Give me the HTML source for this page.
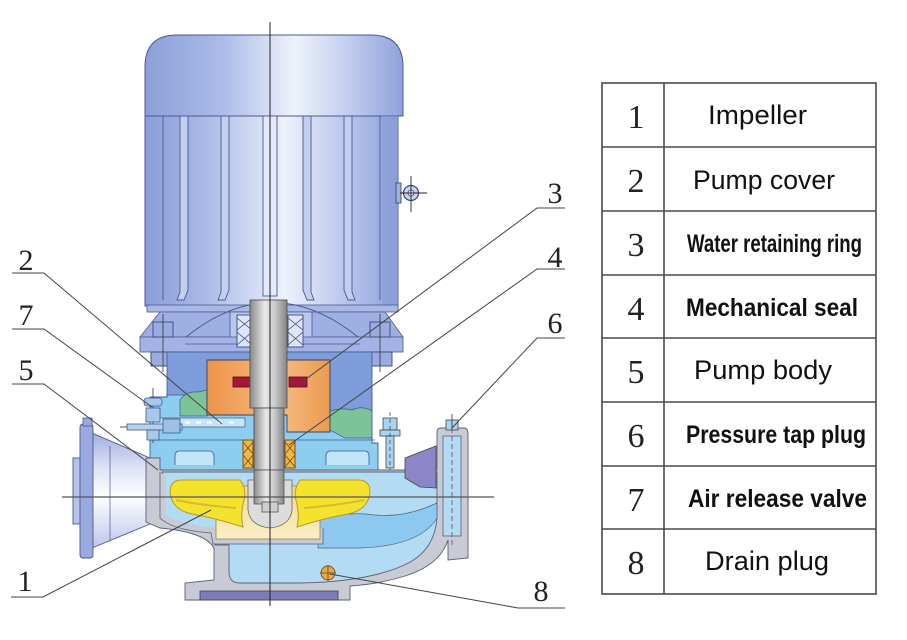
<!DOCTYPE html>
<html><head><meta charset="utf-8"><style>
html,body{margin:0;padding:0;background:#fff;}
svg{display:block;}
</style></head><body>
<svg width="907" height="640" viewBox="0 0 907 640" xmlns="http://www.w3.org/2000/svg">
<defs>
<linearGradient id="gBody" x1="145" x2="398" y1="0" y2="0" gradientUnits="userSpaceOnUse">
 <stop offset="0" stop-color="#8a9dd7"/>
 <stop offset="0.2" stop-color="#a3b4e6"/>
 <stop offset="0.45" stop-color="#d6def5"/>
 <stop offset="0.55" stop-color="#eef2fc"/>
 <stop offset="0.72" stop-color="#c8d3f1"/>
 <stop offset="0.9" stop-color="#a2b3e4"/>
 <stop offset="1" stop-color="#8699d5"/>
</linearGradient>
<linearGradient id="gCap" x1="145" x2="403" y1="0" y2="0" gradientUnits="userSpaceOnUse">
 <stop offset="0" stop-color="#8c9fd8"/>
 <stop offset="0.3" stop-color="#abbbe9"/>
 <stop offset="0.58" stop-color="#eef2fb"/>
 <stop offset="0.78" stop-color="#c4d0f0"/>
 <stop offset="1" stop-color="#8ea1d9"/>
</linearGradient>
<linearGradient id="gOrange" x1="207" x2="330" y1="0" y2="0" gradientUnits="userSpaceOnUse">
 <stop offset="0" stop-color="#ec944a"/>
 <stop offset="0.6" stop-color="#f6bb7f"/>
 <stop offset="1" stop-color="#ea9a52"/>
</linearGradient>
<linearGradient id="gShaft" x1="0" x2="1" y1="0" y2="0">
 <stop offset="0" stop-color="#8a8a8a"/>
 <stop offset="0.4" stop-color="#e8e8e8"/>
 <stop offset="0.65" stop-color="#cfcfcf"/>
 <stop offset="1" stop-color="#858585"/>
</linearGradient>
<linearGradient id="gCone" x1="0" x2="0" y1="433" y2="548" gradientUnits="userSpaceOnUse">
 <stop offset="0" stop-color="#a2ade0"/>
 <stop offset="0.3" stop-color="#dde2f6"/>
 <stop offset="0.55" stop-color="#ffffff"/>
 <stop offset="1" stop-color="#bcc6ec"/>
</linearGradient>
<linearGradient id="gHub" x1="0" x2="0" y1="488" y2="542" gradientUnits="userSpaceOnUse">
 <stop offset="0" stop-color="#f3d98a"/>
 <stop offset="1" stop-color="#fbf0cc"/>
</linearGradient>
</defs>

<rect width="907" height="640" fill="#fff"/>

<!-- ===== MOTOR ===== -->
<path d="M145,116 L145,67 Q145,35 177,35 L371,35 Q403,35 403,67 L403,116 Z" fill="url(#gCap)" stroke="#4b5a8c" stroke-width="1"/>
<rect x="145" y="116" width="253" height="190" fill="url(#gBody)" stroke="#4b5a8c" stroke-width="1"/>
<rect x="382" y="116" width="16" height="190" fill="#8d9fd8" opacity="0.6"/>
<line x1="163" y1="116" x2="163" y2="300" stroke="#4b5a8c" stroke-width="0.9"/>
<line x1="380" y1="116" x2="380" y2="300" stroke="#4b5a8c" stroke-width="0.9"/>
<g fill="#c3cff0" stroke="#4b5a8c" stroke-width="0.9">
 <path d="M180,116 L188,116 L188,290 L184,300 L177,300 L180,292 Z"/>
 <path d="M221,116 L229,116 L229,290 L225,300 L218,300 L221,292 Z"/>
 <path d="M303,116 L311,116 L311,292 L314,300 L307,300 L303,290 Z"/>
 <path d="M344,116 L352,116 L352,292 L355,300 L348,300 L344,290 Z"/>
 <rect x="263" y="116" width="14" height="180" fill="#e4eafa"/>
</g>
<line x1="270" y1="130" x2="270" y2="290" stroke="#333" stroke-width="0.8" stroke-dasharray="14,3,2,3"/>
<!-- eye bolt -->
<rect x="396" y="183" width="5" height="20" fill="#9fb0e2" stroke="#3a4a7a" stroke-width="0.9"/>
<circle cx="411" cy="193" r="7.5" fill="#c9d3f1" stroke="#3a4a7a" stroke-width="1.2"/>
<circle cx="411" cy="193" r="3" fill="#eef2fb" stroke="#3a4a7a" stroke-width="0.8"/>
<line x1="400" y1="193" x2="427" y2="193" stroke="#222" stroke-width="0.9"/>
<line x1="411" y1="176" x2="411" y2="212" stroke="#222" stroke-width="0.9"/>

<!-- ===== BRACKET ===== -->
<rect x="147" y="305" width="251" height="7" fill="#a9b8e7" stroke="#4b5a8c" stroke-width="0.8"/>
<path d="M160,312 L385,312 L403,337 L140,337 Z" fill="#9eb0e3" stroke="#4b5a8c" stroke-width="0.8"/>
<rect x="230" y="312" width="82" height="48" fill="#b9c7ef" stroke="#4b5a8c" stroke-width="0.8"/>
<path d="M186,337 Q272,268 358,337" fill="none" stroke="#4b5a8c" stroke-width="0.9"/>
<rect x="140" y="337" width="263" height="15" fill="#a3b3e5" stroke="#4b5a8c" stroke-width="0.8"/>
<line x1="185" y1="344" x2="360" y2="344" stroke="#4b5a8c" stroke-width="0.7"/>
<!-- bearings -->
<g fill="#dfe5f7" stroke="#3a4a7a" stroke-width="0.9">
 <rect x="237" y="315" width="15" height="32"/>
 <rect x="288" y="315" width="15" height="32"/>
</g>
<g stroke="#3a4a7a" stroke-width="0.8">
 <line x1="237" y1="318" x2="252" y2="330"/><line x1="252" y1="318" x2="237" y2="330"/>
 <line x1="237" y1="332" x2="252" y2="345"/><line x1="252" y1="332" x2="237" y2="345"/>
 <line x1="288" y1="318" x2="303" y2="330"/><line x1="303" y1="318" x2="288" y2="330"/>
 <line x1="288" y1="332" x2="303" y2="345"/><line x1="303" y1="332" x2="288" y2="345"/>
</g>
<!-- bolts -->
<g fill="#9aabe0" stroke="#3a4a7a" stroke-width="0.9">
 <rect x="153" y="322" width="20" height="15"/>
 <rect x="370" y="322" width="20" height="15"/>
 <rect x="151" y="352" width="24" height="14"/>
 <rect x="368" y="352" width="24" height="14"/>
</g>
<line x1="163" y1="314" x2="163" y2="372" stroke="#333" stroke-width="0.8"/>
<line x1="380" y1="314" x2="380" y2="372" stroke="#333" stroke-width="0.8"/>

<!-- ===== PUMP COVER ===== -->
<path d="M150,397 L167,397 L167,393 L372,393 L372,443 L378,443 L378,470 L150,470 Z" fill="#8dcdf0" stroke="#3d5a8a" stroke-width="0.9"/>
<path d="M167,352 L372,352 L372,412 L330,412 L330,395 L167,395 Z" fill="#7f9ddb" stroke="#3d5a8a" stroke-width="0.8"/>
<path d="M180,416 L180,400 Q186,391 198,392 L207,390 L207,416 Z" fill="#7cc39a" stroke="#3d5a8a" stroke-width="0.7"/>
<path d="M328,412 Q340,407 352,410 Q362,405 372,411 L372,438 L345,438 L330,430 Z" fill="#7cc39a" stroke="#3d5a8a" stroke-width="0.7"/>
<path d="M150,440 L243,440 M297,440 L375,440" stroke="#3d5a8a" stroke-width="0.8"/>
<path d="M175,465 L175,456 Q175,451 180,451 L209,451 Q214,451 214,456 L214,465" fill="#c0e5f8" stroke="#3d5a8a" stroke-width="0.8"/>
<path d="M326,465 L326,456 Q326,451 331,451 L364,451 Q369,451 369,456 L369,465" fill="#c0e5f8" stroke="#3d5a8a" stroke-width="0.8"/>
<!-- air release passage -->
<rect x="150" y="418" width="95" height="9" fill="#c5e6f8" stroke="#3d5a8a" stroke-width="0.7"/>
<line x1="185" y1="422.5" x2="240" y2="422.5" stroke="#fff" stroke-width="2" stroke-dasharray="5,6"/>
<!-- orange -->
<path d="M207,360 L330,360 L330,432 L287,432 L287,415 L207,415 Z" fill="url(#gOrange)" stroke="#3d3d5a" stroke-width="0.9"/>
<rect x="233" y="377" width="18" height="10" fill="#a3183a" stroke="#5a0a1a" stroke-width="0.8"/>
<rect x="289" y="377" width="18" height="10" fill="#a3183a" stroke="#5a0a1a" stroke-width="0.8"/>
<!-- shaft -->
<rect x="250" y="300" width="37" height="108" fill="url(#gShaft)" stroke="#555" stroke-width="0.9"/>
<rect x="254" y="408" width="30" height="96" fill="url(#gShaft)" stroke="#555" stroke-width="0.9"/>
<!-- mechanical seal -->
<g fill="#f2b642" stroke="#6a4a10" stroke-width="0.9">
 <rect x="243" y="440" width="10" height="28"/>
 <rect x="285" y="440" width="10" height="28"/>
</g>
<g stroke="#6a4a10" stroke-width="0.7">
 <line x1="243" y1="442" x2="253" y2="454"/><line x1="253" y1="442" x2="243" y2="454"/>
 <line x1="243" y1="455" x2="253" y2="467"/><line x1="253" y1="455" x2="243" y2="467"/>
 <line x1="285" y1="442" x2="295" y2="454"/><line x1="295" y1="442" x2="285" y2="454"/>
 <line x1="285" y1="455" x2="295" y2="467"/><line x1="295" y1="455" x2="285" y2="467"/>
</g>

<!-- ===== INLET ===== -->
<path d="M92,433 L150,458 L150,524 L92,548 Z" fill="url(#gCone)" stroke="#4b5a8c" stroke-width="0.9"/>
<line x1="110" y1="446" x2="110" y2="540" stroke="#4b5a8c" stroke-width="0.7"/>
<rect x="73" y="458" width="8" height="66" fill="#b7c2ea" stroke="#4b5a8c" stroke-width="0.9"/>
<rect x="80" y="424" width="13" height="134" rx="3" fill="#9aaade" stroke="#4b5a8c" stroke-width="0.9"/>
<rect x="83" y="418" width="9" height="8" fill="#9aaade" stroke="#4b5a8c" stroke-width="0.8"/>

<!-- ===== CASING ===== -->
<path d="M146,458 L160,458 L160,470 L437,470 L437,432 Q437,428 441,428 L464,428 Q468,428 468,434 L468,558 L448,560 L448,540 Q440,565 405,576 Q380,584 350,586 L350,600 L185,600 L185,583 L214,580 L214,548 Q205,532 160,528 L146,522 Z" fill="#c8cbd4" stroke="#5a6078" stroke-width="0.9"/>
<path d="M162,472 L437,472 L437,515 Q436,552 402,566 Q365,582 300,583 L240,583 Q229,583 229,572 L229,545 L215,545 L215,532 Q200,526 165,520 L162,515 Z" fill="#b3dbf4" stroke="#5a6078" stroke-width="0.9"/>
<path d="M318,520 Q345,511 375,515 Q405,518 437,503 L437,518 Q420,546 360,548 L318,548 Z" fill="#8cc8ef" stroke="#5a6078" stroke-width="0.7"/>
<!-- outlet interior -->
<rect x="443" y="436" width="18" height="100" fill="#b3dbf4" stroke="#5a6078" stroke-width="0.8"/>
<line x1="452" y1="428" x2="452" y2="545" stroke="#555" stroke-width="0.8" stroke-dasharray="5,3"/>
<path d="M405,458 L436,446 L436,488 L420,487 L405,478 Z" fill="#8c85c8" stroke="#444" stroke-width="0.8"/>
<!-- pressure plug & bolt -->
<rect x="446" y="420" width="12" height="10" fill="#a9d3f0" stroke="#444" stroke-width="0.8"/>
<line x1="452" y1="414" x2="452" y2="430" stroke="#333" stroke-width="0.8"/>
<rect x="383" y="418" width="14" height="12" fill="#a9d3f0" stroke="#444" stroke-width="0.8"/>
<rect x="380" y="430" width="20" height="6" fill="#a9d3f0" stroke="#444" stroke-width="0.8"/>
<rect x="386" y="436" width="8" height="32" fill="#a9d3f0" stroke="#444" stroke-width="0.8"/>
<line x1="390" y1="412" x2="390" y2="470" stroke="#333" stroke-width="0.7" stroke-dasharray="4,3"/>
<!-- impeller chamber band -->
<path d="M163,474 L163,516 Q175,526 214,530 L216,541 L320,541 L320,528" fill="none" stroke="#c8cbd4" stroke-width="5"/>
<path d="M160,472 L160,518 Q172,530 211,533 L213,544 L323,544 L323,528" fill="none" stroke="#5a6078" stroke-width="0.8"/>
<!-- hub -->
<rect x="216" y="486" width="104" height="53" fill="url(#gHub)" stroke="#8a7a40" stroke-width="0.7"/>
<!-- vanes -->
<path d="M170,492 Q170,480 182,480 L240,480 Q247,490 244,500 Q240,515 243,527 Q215,518 192,514 Q172,510 170,492 Z" fill="#f4e32c" stroke="#b8982c" stroke-width="1"/>
<path d="M370,492 Q370,480 358,480 L300,480 Q293,490 296,500 Q300,515 297,527 Q325,518 348,514 Q368,510 370,492 Z" fill="#f4e32c" stroke="#b8982c" stroke-width="1"/>
<path d="M176,500 Q200,505 236,508" fill="none" stroke="#d8b83a" stroke-width="2"/>
<path d="M364,500 Q340,505 304,508" fill="none" stroke="#d8b83a" stroke-width="2"/>
<!-- hub centre -->
<path d="M248,480 L248,510 Q250,526 270,528 Q290,526 292,510 L292,480 Z" fill="#dcdcdc" stroke="#666" stroke-width="0.8"/>
<rect x="254" y="470" width="30" height="34" fill="url(#gShaft)" stroke="#555" stroke-width="0.8"/>
<rect x="262" y="502" width="16" height="10" fill="#cfcfcf" stroke="#555" stroke-width="0.8"/>
<!-- foot -->
<rect x="200" y="591" width="138" height="9" fill="#7e7bb9" stroke="#444" stroke-width="0.8"/>
<!-- drain plug -->
<circle cx="328" cy="573" r="7" fill="#e8a84a" stroke="#7a5020" stroke-width="0.9"/>
<line x1="320" y1="573" x2="336" y2="573" stroke="#5a3a10" stroke-width="0.7"/>
<line x1="328" y1="565" x2="328" y2="581" stroke="#5a3a10" stroke-width="0.7"/>

<!-- valve (7) -->
<line x1="153" y1="388" x2="153" y2="443" stroke="#444" stroke-width="0.9"/>
<rect x="127" y="424" width="55" height="6" fill="#b8d0ec" stroke="#3d5a8a" stroke-width="0.8"/>
<line x1="120" y1="427" x2="127" y2="427" stroke="#444" stroke-width="0.9"/>
<rect x="144" y="398" width="18" height="8" rx="3" fill="#a8c8e8" stroke="#3d5a8a" stroke-width="0.8"/>
<rect x="146" y="408" width="14" height="14" fill="#a9c9ea" stroke="#3d5a8a" stroke-width="0.8"/>
<rect x="147" y="430" width="12" height="10" fill="#a9c9ea" stroke="#3d5a8a" stroke-width="0.8"/>
<rect x="163" y="419" width="17" height="14" fill="#9fc0e6" stroke="#3d5a8a" stroke-width="0.8"/>

<!-- axes -->
<line x1="270" y1="22" x2="270" y2="606" stroke="#222" stroke-width="1"/>
<line x1="62" y1="497" x2="494" y2="497" stroke="#555" stroke-width="1.2"/>

<!-- ===== LEADERS ===== -->
<g stroke="#444" stroke-width="1" fill="none">
 <path d="M12,273 L44,273 L222,424"/>
 <path d="M12,329 L44,329 L152,407"/>
 <path d="M12,384 L44,384 L158,470"/>
 <path d="M11,597 L43,597 L211,510"/>
 <path d="M565,208 L537,208 L302,382"/>
 <path d="M565,269 L537,269 L289,445"/>
 <path d="M565,338 L537,338 L452,428"/>
 <path d="M565,608 L518,608 L330,574"/>
</g>
<g font-family="'Liberation Serif', serif" font-size="30" fill="#222" text-anchor="middle">
 <text x="26" y="270">2</text>
 <text x="26" y="325">7</text>
 <text x="26" y="380">5</text>
 <text x="25" y="591">1</text>
 <text x="555" y="203">3</text>
 <text x="555" y="267">4</text>
 <text x="555" y="333">6</text>
 <text x="541" y="601">8</text>
</g>

<!-- ===== TABLE ===== -->
<g stroke="#4a4a4a" stroke-width="1.6" fill="none">
 <rect x="602" y="83" width="274" height="511"/>
 <line x1="664" y1="83" x2="664" y2="594"/>
 <line x1="602" y1="147" x2="876" y2="147"/>
 <line x1="602" y1="211" x2="876" y2="211"/>
 <line x1="602" y1="275" x2="876" y2="275"/>
 <line x1="602" y1="338" x2="876" y2="338"/>
 <line x1="602" y1="402" x2="876" y2="402"/>
 <line x1="602" y1="466" x2="876" y2="466"/>
 <line x1="602" y1="529" x2="876" y2="529"/>
</g>
<g font-family="'Liberation Serif', serif" font-size="34" fill="#222" text-anchor="middle">
 <text x="636" y="128">1</text>
 <text x="636" y="192">2</text>
 <text x="636" y="256">3</text>
 <text x="636" y="320">4</text>
 <text x="636" y="383">5</text>
 <text x="636" y="447">6</text>
 <text x="636" y="511">7</text>
 <text x="636" y="574">8</text>
</g>
<g font-family="'Liberation Sans', sans-serif" fill="#111" font-size="27">
 <text x="708" y="124" textLength="99" lengthAdjust="spacingAndGlyphs">Impeller</text>
 <text x="693" y="189" textLength="142" lengthAdjust="spacingAndGlyphs">Pump cover</text>
 <text x="694" y="379" textLength="138" lengthAdjust="spacingAndGlyphs">Pump body</text>
 <text x="705" y="570" textLength="124" lengthAdjust="spacingAndGlyphs">Drain plug</text>
</g>
<g font-family="'Liberation Sans', sans-serif" fill="#111" font-size="25" font-weight="bold">
 <text x="687" y="252" textLength="175" lengthAdjust="spacingAndGlyphs">Water retaining ring</text>
 <text x="686" y="316" textLength="172" lengthAdjust="spacingAndGlyphs">Mechanical seal</text>
 <text x="686" y="443" textLength="180" lengthAdjust="spacingAndGlyphs">Pressure tap plug</text>
 <text x="688" y="507" textLength="179" lengthAdjust="spacingAndGlyphs">Air release valve</text>
</g>
</svg>
</body></html>
